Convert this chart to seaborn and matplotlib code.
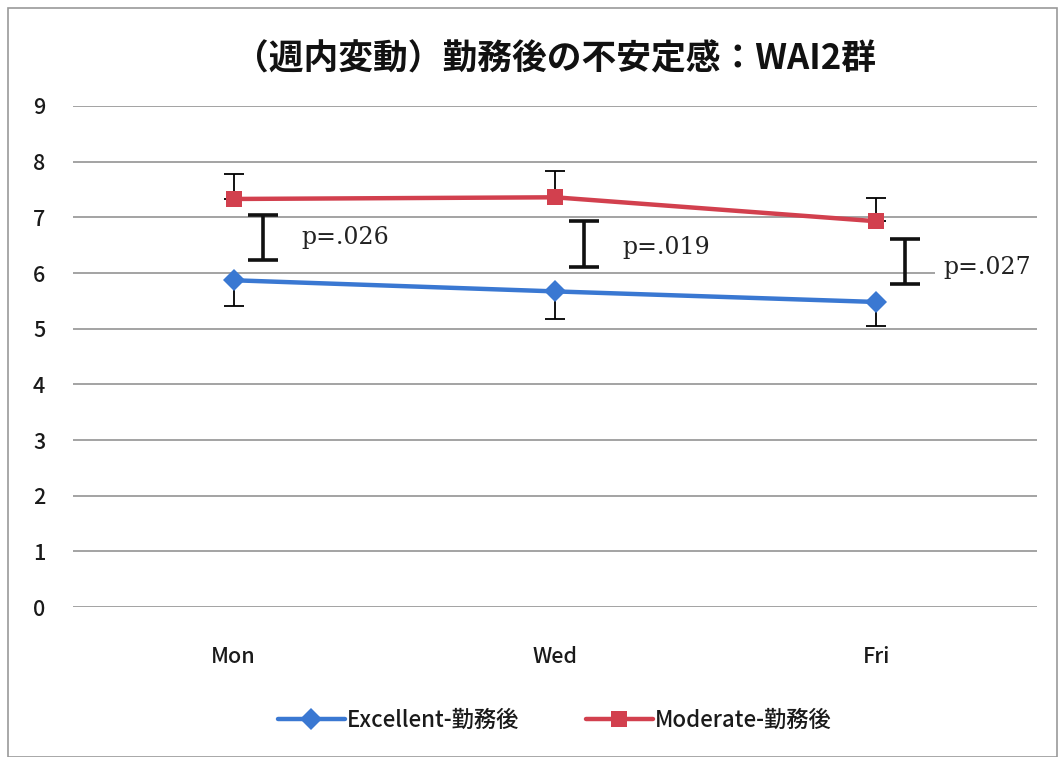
import pandas as pd
import seaborn as sns
import matplotlib.pyplot as plt
from matplotlib.patches import Rectangle

# data
days = ["Mon", "Wed", "Fri"]
excellent = [5.87, 5.67, 5.48]
excellent_err = [0.46, 0.50, 0.44]   # lower whisker only
moderate = [7.33, 7.36, 6.93]
moderate_err = [0.44, 0.48, 0.41]    # upper whisker only
labels = ["Excellent-勤務後", "Moderate-勤務後"]

# significance brackets (low, high) and p values
br_low = [6.23, 6.10, 5.80]
br_high = [7.04, 6.93, 6.62]
p_text = ["p=.026", "p=.019", "p=.027"]

sns.set_theme(style="white")
plt.rcParams['font.family'] = ['Noto Sans CJK JP', 'DejaVu Sans']

df = pd.DataFrame({
    "day": days * 2,
    "value": excellent + moderate,
    "group": [labels[0]] * 3 + [labels[1]] * 3,
})

fig = plt.figure(figsize=(10.59, 7.57), dpi=100)
ax = fig.add_axes([0.069, 0.198, 0.91, 0.662])
fig.patches.append(Rectangle((0.008, 0.0), 0.99, 0.99, transform=fig.transFigure,
                             fill=False, edgecolor="#999999", lw=1.2))

colors = {labels[0]: "#3A78D2", labels[1]: "#D2404E"}
sns.lineplot(data=df, x="day", y="value", hue="group", style="group",
             markers={labels[0]: "D", labels[1]: "s"}, dashes=False,
             palette=colors, linewidth=3.2, markersize=11.5, markeredgewidth=0,
             ax=ax, zorder=4)

xs = list(range(len(days)))
ax.errorbar(xs, excellent, yerr=[excellent_err, [0] * 3], fmt="none",
            ecolor="black", elinewidth=1.3, capsize=7, capthick=1.3, zorder=3)
ax.errorbar(xs, moderate, yerr=[[0] * 3, moderate_err], fmt="none",
            ecolor="black", elinewidth=1.3, capsize=7, capthick=1.3, zorder=3)

# brackets and p values
for i in xs:
    mid = (br_low[i] + br_high[i]) / 2
    half = (br_high[i] - br_low[i]) / 2
    ax.errorbar(i + 0.09, mid, yerr=half, fmt="none", ecolor="#111111",
                elinewidth=2.6, capsize=11, capthick=2.6, zorder=5)
for i, t in enumerate(p_text):
    ax.text(i + 0.21, br_low[i] + 0.4 - 0.05 * i, t, family="DejaVu Serif",
            fontsize=17, va="center", ha="left", color="#222222", zorder=6,
            bbox=dict(facecolor="white", edgecolor="none", pad=6))

ax.set_ylim(0, 9)
ax.set_xlim(-0.5, 2.5)
ax.set_yticks(range(10))
ax.yaxis.grid(True, color="#8a8a8a", linewidth=1.1)
ax.set_axisbelow(True)
for s in ax.spines.values():
    s.set_visible(False)
ax.tick_params(axis="y", length=0, pad=20, labelsize=15.5, colors="#1a1a1a")
ax.tick_params(axis="x", length=0, pad=28, labelsize=15.5, colors="#1a1a1a")
for lab in ax.get_xticklabels() + ax.get_yticklabels():
    lab.set_fontweight("medium")
ax.set_xlabel("")
ax.set_ylabel("")

ax.set_title("（週内変動）勤務後の不安定感：WAI2群", fontsize=25, fontweight="bold",
             pad=26, color="#111111")

leg = ax.legend(loc="center", bbox_to_anchor=(0.5, -0.225), ncol=2, frameon=False,
                fontsize=16, handlelength=3.0, columnspacing=3.0, handletextpad=0.1)
for txt in leg.get_texts():
    txt.set_fontweight("medium")
    txt.set_color("#1a1a1a")

fig.savefig("out.png", dpi=100)
